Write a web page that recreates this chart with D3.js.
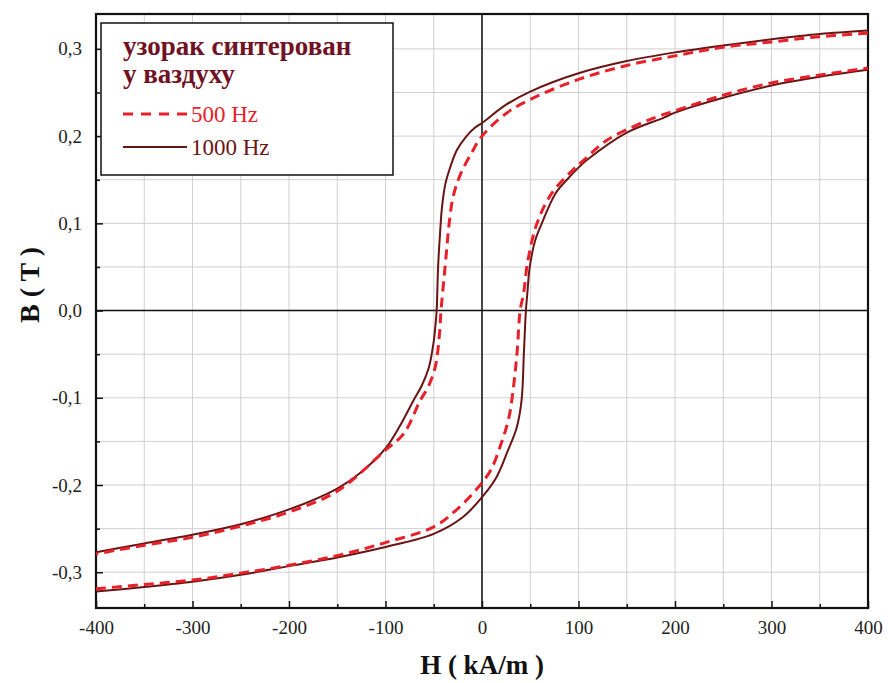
<!DOCTYPE html>
<html>
<head>
<meta charset="utf-8">
<script src="https://cdn.jsdelivr.net/npm/d3@7"></script>
<style>
body{margin:0;background:#fff;}
svg text{font-family:"Liberation Serif","DejaVu Serif",serif;}
</style>
</head>
<body>
<div class="chart"></div>
<script>
// data: hysteresis loops, H in kA/m, B in T
var upper1000 = [[400,0.321],[350,0.317],[300,0.311],[250,0.304],[200,0.296],[150,0.286],[100,0.272],[50,0.251],[25,0.236],[0,0.215],[-8,0.209],[-16,0.2],[-26,0.184],[-33,0.164],[-38,0.145],[-41.5,0.118],[-43.5,0.088],[-45.5,0.05],[-47,0.0],[-48.5,-0.02],[-50,-0.035],[-55,-0.065],[-62,-0.085],[-71,-0.103],[-85,-0.132],[-100,-0.158],[-125,-0.185],[-150,-0.204],[-200,-0.228],[-250,-0.245],[-300,-0.257],[-350,-0.267],[-400,-0.277]];
var lower1000 = [[-400,-0.322],[-350,-0.317],[-300,-0.311],[-250,-0.303],[-200,-0.293],[-150,-0.283],[-100,-0.271],[-50,-0.256],[-20,-0.237],[0,-0.214],[15,-0.191],[27,-0.16],[36,-0.134],[41,-0.103],[43.5,-0.046],[45.5,0],[47,0.02],[49.5,0.05],[55,0.08],[62,0.1],[76,0.134],[88,0.15],[101,0.165],[108,0.172],[150,0.204],[188,0.221],[200,0.227],[250,0.244],[300,0.258],[350,0.268],[400,0.276]];
var upper500 = [[400,0.318],[350,0.314],[300,0.308],[250,0.302],[200,0.292],[150,0.281],[100,0.265],[50,0.242],[25,0.226],[0,0.2],[-10.7,0.181],[-22.8,0.155],[-30,0.13],[-34,0.1],[-37,0.065],[-40,0.03],[-42.5,0],[-44,-0.026],[-48.5,-0.065],[-56,-0.088],[-64,-0.103],[-81,-0.141],[-100,-0.16],[-150,-0.207],[-200,-0.231],[-250,-0.247],[-300,-0.26],[-350,-0.269],[-400,-0.279]];
var lower500 = [[-400,-0.319],[-350,-0.314],[-300,-0.309],[-250,-0.301],[-200,-0.292],[-150,-0.281],[-100,-0.266],[-50,-0.248],[-27,-0.229],[-5,-0.204],[9,-0.183],[20,-0.152],[28,-0.122],[33,-0.084],[36.5,-0.046],[39.5,0],[43,0.019],[47.5,0.057],[57,0.1],[72,0.134],[93,0.16],[105,0.172],[129,0.195],[157,0.211],[181,0.222],[200,0.229],[250,0.247],[300,0.261],[350,0.27],[400,0.278]];
var xTicks = [-400,-300,-200,-100,0,100,200,300,400];
var yTicks = [-0.3,-0.2,-0.1,0,0.1,0.2,0.3];
var legendTitle = ["узорак синтерован","у ваздуху"];
var legendLabels = ["500 Hz","1000 Hz"];

var svgWidth = 888, svgHeight = 683;
var margin = {top:14, right:20, bottom:75, left:96};
var width = svgWidth - margin.left - margin.right;
var height = svgHeight - margin.top - margin.bottom;

var svg = d3.select(".chart").append("svg")
  .attr("width", svgWidth)
  .attr("height", svgHeight);
var g = svg.append("g")
  .attr("transform", `translate(${margin.left},${margin.top})`);

var xScale = d3.scaleLinear().domain([-400,400]).range([0,width]);
var yScale = d3.scaleLinear().domain([-0.341,0.34]).range([height,0]);

// grid
g.append("g").selectAll("line").data(d3.range(-350,400,50))
  .enter().append("line")
  .attr("x1",d=>xScale(d)).attr("x2",d=>xScale(d))
  .attr("y1",0).attr("y2",height)
  .attr("stroke","#d0d0d0").attr("stroke-width",1);
g.append("g").selectAll("line").data(d3.range(-0.3,0.31,0.05))
  .enter().append("line")
  .attr("x1",0).attr("x2",width)
  .attr("y1",d=>yScale(d)).attr("y2",d=>yScale(d))
  .attr("stroke","#d0d0d0").attr("stroke-width",1);

// zero lines
g.append("line").attr("x1",xScale(0)).attr("x2",xScale(0)).attr("y1",0).attr("y2",height)
  .attr("stroke","#111").attr("stroke-width",1.5);
g.append("line").attr("x1",0).attr("x2",width).attr("y1",yScale(0)).attr("y2",yScale(0))
  .attr("stroke","#111").attr("stroke-width",1.5);

// axes with inward ticks, hyphen minus and comma decimals
var fmtY = d => d3.format(".1f")(d).replace(".",",").replace("−","-");
var fmtX = d => String(d);
var xAxis = g.append("g").attr("transform",`translate(0,${height})`)
  .call(d3.axisBottom(xScale).tickValues(xTicks).tickSize(-7).tickPadding(13).tickFormat(fmtX));
var xMinor = g.append("g").attr("transform",`translate(0,${height})`)
  .call(d3.axisBottom(xScale).tickValues(d3.range(-350,400,100)).tickSize(-4).tickFormat(""));
var yAxis = g.append("g")
  .call(d3.axisLeft(yScale).tickValues(yTicks).tickSize(-7).tickPadding(14).tickFormat(fmtY));
var yMinor = g.append("g")
  .call(d3.axisLeft(yScale).tickValues([-0.25,-0.15,-0.05,0.05,0.15,0.25]).tickSize(-4).tickFormat(""));
[xAxis,xMinor,yAxis,yMinor].forEach(a=>{
  a.select(".domain").remove();
  a.selectAll("line").attr("stroke","#111").attr("stroke-width",1.5);
  a.selectAll("text").attr("font-size",19).attr("fill","#222");
});
xAxis.selectAll("text").attr("dy","0.7em");

// frame
g.append("rect").attr("x",0).attr("y",0).attr("width",width).attr("height",height)
  .attr("fill","none").attr("stroke","#111").attr("stroke-width",2.2);

// curves
var line = d3.line()
  .x(d=>xScale(d[0]))
  .y(d=>yScale(d[1]))
  .curve(d3.curveCatmullRom.alpha(0.5));
var solidColor = "#6a1414", dashColor = "#e8202a";
[upper1000,lower1000].forEach(s=>{
  g.append("path").attr("d",line(s)).attr("fill","none")
    .attr("stroke",solidColor).attr("stroke-width",2);
});
[upper500,lower500].forEach(s=>{
  g.append("path").attr("d",line(s)).attr("fill","none")
    .attr("stroke",dashColor).attr("stroke-width",3)
    .attr("stroke-dasharray","10,6");
});

// legend
var lg = svg.append("g").attr("transform","translate(101,23)");
lg.append("rect").attr("width",292).attr("height",152)
  .attr("fill","#fff").attr("stroke","#111").attr("stroke-width",1.5);
lg.selectAll(".lt").data(legendTitle).enter().append("text")
  .attr("x",22).attr("y",(d,i)=>32+i*28)
  .attr("font-size",27).attr("font-weight","bold").attr("fill","#701224")
  .text(d=>d);
var entries = [{c:dashColor,dash:"10,8",w:3},{c:solidColor,dash:null,w:2.2}];
entries.forEach((e,i)=>{
  var yy = 91 + i*33;
  lg.append("line").attr("x1",22).attr("x2",86).attr("y1",yy).attr("y2",yy)
    .attr("stroke",e.c).attr("stroke-width",e.w)
    .attr("stroke-dasharray",e.dash);
  lg.append("text").attr("x",90).attr("y",yy+8)
    .attr("font-size",23).attr("fill",e.c).text(legendLabels[i]);
});

// axis titles
svg.append("text").attr("x",margin.left+xScale(0)).attr("y",674)
  .attr("text-anchor","middle").attr("font-size",27).attr("font-weight","bold")
  .attr("fill","#111").text("H ( kA/m )");
svg.append("text").attr("transform","translate(39,285) rotate(-90)")
  .attr("text-anchor","middle").attr("font-size",28).attr("font-weight","bold")
  .attr("fill","#111").text("B ( T )");
</script>
</body>
</html>
